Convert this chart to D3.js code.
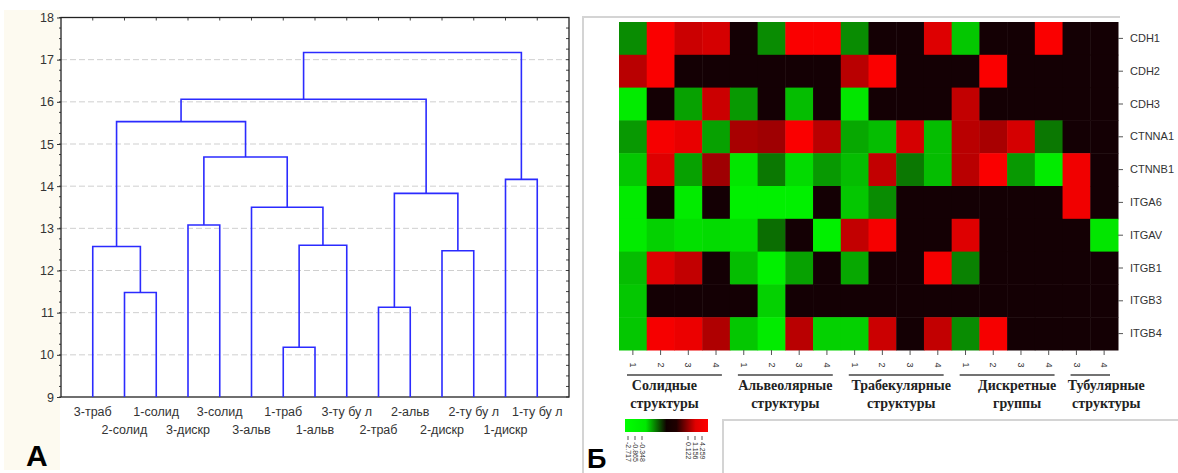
<!DOCTYPE html>
<html>
<head>
<meta charset="utf-8">
<script src="https://cdn.jsdelivr.net/npm/d3@7"></script>
<style>
  body { margin: 0; background: #fff; }
  svg { display: block; }
</style>
</head>
<body>
<svg width="1178" height="473"></svg>
<script>
"use strict";

/* ---- data: panel A (dendrogram) ---- */
var leaves = ["3-траб", "2-солид", "1-солид", "3-дискр", "3-солид", "3-альв", "1-траб",
              "1-альв", "3-ту бу л", "2-траб", "2-альв", "2-дискр", "2-ту бу л", "1-дискр", "1-ту бу л"];
// hclust-style merges: negative = leaf (1-based), positive = earlier merge; last = height
var merges = [
  [-2, -3, 11.48],
  [-1, 1, 12.57],
  [-4, -5, 13.08],
  [-7, -8, 10.18],
  [4, -9, 12.6],
  [-6, 5, 13.5],
  [3, 6, 14.69],
  [2, 7, 15.53],
  [-10, -11, 11.13],
  [-12, -13, 12.47],
  [9, 10, 13.83],
  [8, 11, 16.06],
  [-14, -15, 14.16],
  [12, 13, 17.17]
];
var yTicks = [9, 10, 11, 12, 13, 14, 15, 16, 17, 18];

/* ---- data: panel B (heatmap) ---- */
var genes = ["CDH1", "CDH2", "CDH3", "CTNNA1", "CTNNB1", "ITGA6", "ITGAV", "ITGB1", "ITGB3", "ITGB4"];
var colNums = ["1", "2", "3", "4", "1", "2", "3", "4", "1", "2", "3", "4", "1", "2", "3", "4", "3", "4"];
var groupNames = [["Солидные", "структуры"], ["Альвеолярные", "структуры"], ["Трабекулярные", "структуры"],
                  ["Дискретные", "группы"], ["Тубулярные", "структуры"]];
var groupSizes = [4, 4, 4, 4, 2];
// relative expression, -1 = green, 0 = black, 1 = red
var expr = [
  [-0.55, 0.98, 0.78, 0.82, 0, -0.55, 0.98, 0.98, -0.55, 0, 0, 0.86, -0.78, 0, 0, 0.98, 0, 0],
  [0.7, 0.98, 0, 0, 0, 0, 0, 0, 0.7, 0.98, 0, 0, 0, 0.98, 0, 0, 0, 0],
  [-0.92, 0, -0.63, 0.78, -0.6, 0, -0.74, 0, -0.9, 0, 0, 0, 0.74, 0, 0, 0, 0, 0],
  [-0.6, 0.96, 0.9, -0.63, 0.63, 0.59, 0.98, 0.7, -0.66, -0.74, 0.82, -0.74, 0.7, 0.63, 0.82, -0.47, 0, 0],
  [-0.78, 0.86, -0.63, 0.59, -0.9, -0.47, -0.86, -0.6, -0.74, 0.74, -0.47, -0.74, 0.7, 0.98, -0.6, -0.92, 0.94, 0],
  [-0.92, 0, -0.92, 0, -0.94, -0.94, -0.94, 0, -0.78, -0.55, 0, 0, 0, 0, 0, 0, 0.94, 0],
  [-0.92, -0.82, -0.88, -0.86, -0.88, -0.43, 0, -0.94, 0.74, 0.96, 0, 0, 0.86, 0, 0, 0, 0, -0.9],
  [-0.74, 0.86, 0.74, 0, -0.74, -0.94, -0.63, 0, -0.66, 0, 0, 0.96, -0.51, 0, 0, 0, 0, 0],
  [-0.78, 0, 0, 0, 0, -0.82, 0, 0, 0, 0, 0, 0, 0, 0, 0, 0, 0, 0],
  [-0.78, 0.96, 0.92, 0.66, -0.78, -0.92, 0.7, -0.82, -0.82, 0.78, 0, 0.74, -0.55, 0.96, 0, 0, 0, 0]
];
var legendTicks = [-2.717, -0.865, -0.348, 0.122, 1.156, 4.259];

var svg = d3.select("svg");

/* ================= Panel A ================= */
var A = {left: 61, right: 569, top: 17.5, bottom: 397};

svg.append("rect")
  .attr("x", 4).attr("y", 10).attr("width", 56).attr("height", 460)
  .attr("fill", "#fdfaf0");

var x = d3.scalePoint().domain(leaves).range([A.left, A.right]).padding(1);
var y = d3.scaleLinear().domain([9, 18]).range([A.bottom, A.top]);

var gA = svg.append("g");

// dashed grid
gA.append("g").selectAll("line")
  .data(yTicks.slice(1, -1))
  .enter().append("line")
    .attr("x1", A.left).attr("x2", A.right)
    .attr("y1", function(d) { return y(d); }).attr("y2", function(d) { return y(d); })
    .attr("stroke", "#cfcfcf").attr("stroke-dasharray", "6,3");

// minor ticks left/right
var minor = d3.range(9, 18.01, 0.25);
gA.append("g").selectAll("line")
  .data(minor)
  .enter().append("line")
    .attr("x1", A.left - 2).attr("x2", A.left)
    .attr("y1", function(d) { return y(d); }).attr("y2", function(d) { return y(d); })
    .attr("stroke", "#444");
gA.append("g").selectAll("line")
  .data(minor)
  .enter().append("line")
    .attr("x1", A.right - 3).attr("x2", A.right)
    .attr("y1", function(d) { return y(d); }).attr("y2", function(d) { return y(d); })
    .attr("stroke", "#444");
// top ticks at leaves
gA.append("g").selectAll("line")
  .data(leaves)
  .enter().append("line")
    .attr("x1", function(d) { return x(d); }).attr("x2", function(d) { return x(d); })
    .attr("y1", A.top).attr("y2", A.top + 3)
    .attr("stroke", "#444");

// frame
gA.append("rect")
  .attr("x", A.left).attr("y", A.top)
  .attr("width", A.right - A.left).attr("height", A.bottom - A.top)
  .attr("fill", "none").attr("stroke", "#222").attr("stroke-width", 1.3);

// left axis
var yAxis = gA.append("g")
  .attr("transform", "translate(" + A.left + ",0)")
  .call(d3.axisLeft(y).tickValues(yTicks).tickSize(4).tickFormat(d3.format("d")));
yAxis.select(".domain").remove();
yAxis.selectAll("text")
  .attr("font-family", "Arial, 'Liberation Sans', sans-serif")
  .attr("font-size", 12.5).attr("fill", "#333");
yAxis.selectAll("line").attr("stroke", "#333");

// dendrogram links
function pos(ref) {
  if (ref < 0) return {x: x(leaves[-ref - 1]), h: 9};
  var m = merges[ref - 1];
  var a = pos(m[0]), b = pos(m[1]);
  return {x: (a.x + b.x) / 2, h: m[2], a: a, b: b};
}
var links = merges.map(function(m, i) { return pos(i + 1); });

gA.append("g").selectAll("path")
  .data(links)
  .enter().append("path")
    .attr("d", function(d) {
      return "M" + d.a.x + "," + y(d.a.h) + "V" + y(d.h) + "H" + d.b.x + "V" + y(d.b.h);
    })
    .attr("fill", "none")
    .attr("stroke", "#2b2bff")
    .attr("stroke-width", 1.6);

// leaf labels, staggered
gA.append("g").selectAll("text")
  .data(leaves)
  .enter().append("text")
    .attr("x", function(d) { return x(d); })
    .attr("y", function(d, i) { return i % 2 === 0 ? 416 : 434; })
    .attr("text-anchor", "middle")
    .attr("font-family", "Arial, 'Liberation Sans', sans-serif")
    .attr("font-size", 12.5)
    .attr("fill", "#333")
    .text(function(d) { return d; });

svg.append("text")
  .attr("x", 26).attr("y", 466)
  .attr("font-family", "Arial, 'Liberation Sans', sans-serif")
  .attr("font-size", 30).attr("font-weight", "bold")
  .text("А");

/* ================= Panel B ================= */
var B = {left: 619, right: 1118, top: 22, bottom: 350};

// panel borders
svg.append("path")
  .attr("d", "M583,473V17H1120M723,473V420H1178")
  .attr("fill", "none").attr("stroke", "#d4d4d4").attr("stroke-width", 2);

var hx = d3.scaleBand().domain(d3.range(colNums.length)).range([B.left, B.right]);
var hy = d3.scaleBand().domain(genes).range([B.top, B.bottom]);
var color = d3.scaleLinear().domain([-1, 0, 1]).range(["#00ff00", "#140004", "#ff0000"]);

var cells = [];
expr.forEach(function(row, r) {
  row.forEach(function(v, c) { cells.push({gene: genes[r], col: c, v: v}); });
});

svg.append("g").selectAll("rect")
  .data(cells)
  .enter().append("rect")
    .attr("x", function(d) { return hx(d.col); })
    .attr("y", function(d) { return hy(d.gene); })
    .attr("width", hx.bandwidth() + 0.5)
    .attr("height", hy.bandwidth() + 0.5)
    .attr("fill", function(d) { return color(d.v); });

// gene labels on right
var rowAxis = svg.append("g")
  .attr("transform", "translate(" + B.right + ",0)")
  .call(d3.axisRight(hy).tickSize(5).tickPadding(7));
rowAxis.select(".domain").remove();
rowAxis.selectAll("line").attr("stroke", "#555");
rowAxis.selectAll("text")
  .attr("font-family", "Arial, 'Liberation Sans', sans-serif")
  .attr("font-size", 11).attr("fill", "#333");

// column numbers
var colAxis = svg.append("g")
  .attr("transform", "translate(0," + B.bottom + ")")
  .call(d3.axisBottom(hx).tickSize(5).tickFormat(function(i) { return colNums[i]; }));
colAxis.select(".domain").remove();
colAxis.selectAll("line").attr("stroke", "#555");
colAxis.selectAll("text")
  .attr("font-family", "Arial, 'Liberation Sans', sans-serif")
  .attr("font-size", 9).attr("fill", "#333")
  .attr("transform", "rotate(90)")
  .attr("x", 15).attr("y", 0).attr("dy", "0.32em")
  .attr("text-anchor", "middle");

// group underlines and names
var labelShift = [-10, 0, 5, 10, 16];
var start = 0;
var groups = groupSizes.map(function(n, i) {
  var g = {x0: hx(start), x1: hx(start + n - 1) + hx.bandwidth(), names: groupNames[i], shift: labelShift[i]};
  start += n;
  return g;
});

var gg = svg.append("g").selectAll("g")
  .data(groups)
  .enter().append("g");

gg.append("line")
  .attr("x1", function(d) { return d.x0 + 8; })
  .attr("x2", function(d) { return d.x1 - 8; })
  .attr("y1", 375).attr("y2", 375)
  .attr("stroke", "#444").attr("stroke-width", 1.5);

gg.selectAll("text")
  .data(function(d) { return d.names.map(function(t) { return {t: t, cx: (d.x0 + d.x1) / 2 + d.shift}; }); })
  .enter().append("text")
    .attr("x", function(d) { return d.cx; })
    .attr("y", function(d, i) { return i === 0 ? 390 : 408; })
    .attr("text-anchor", "middle")
    .attr("font-family", "'Liberation Serif', 'Times New Roman', serif")
    .attr("font-weight", "bold")
    .attr("font-size", 14)
    .attr("fill", "#222")
    .text(function(d) { return d.t; });

// colour key
var defs = svg.append("defs");
var grad = defs.append("linearGradient").attr("id", "key");
[[0, "#00ff00"], [0.25, "#00e800"], [0.5, "#100000"], [0.62, "#200000"], [0.85, "#e00000"], [1, "#ff0000"]]
  .forEach(function(s) {
    grad.append("stop").attr("offset", s[0]).attr("stop-color", s[1]);
  });
svg.append("rect")
  .attr("x", 625).attr("y", 419).attr("width", 83).attr("height", 13)
  .attr("fill", "url(#key)");

// key labels sit in two evenly spaced clusters (low / high end)
var kLow = d3.scalePoint().domain(legendTicks.slice(0, 3)).range([628, 642]);
var kHigh = d3.scalePoint().domain(legendTicks.slice(3)).range([688, 702]);
var kx = function(d) { return d < 0 ? kLow(d) : kHigh(d); };
var kg = svg.append("g").selectAll("g")
  .data(legendTicks)
  .enter().append("g")
    .attr("transform", function(d) { return "translate(" + kx(d) + ",436)"; });
kg.append("line").attr("y1", 0).attr("y2", 4).attr("stroke", "#555");
kg.append("text")
  .attr("transform", "rotate(90)")
  .attr("x", 6).attr("dy", "0.32em")
  .attr("font-family", "Arial, 'Liberation Sans', sans-serif")
  .attr("font-size", 7).attr("fill", "#333")
  .text(function(d) { return d; });

svg.append("text")
  .attr("x", 587).attr("y", 468)
  .attr("font-family", "Arial, 'Liberation Sans', sans-serif")
  .attr("font-size", 27).attr("font-weight", "bold")
  .text("Б");
</script>
</body>
</html>
